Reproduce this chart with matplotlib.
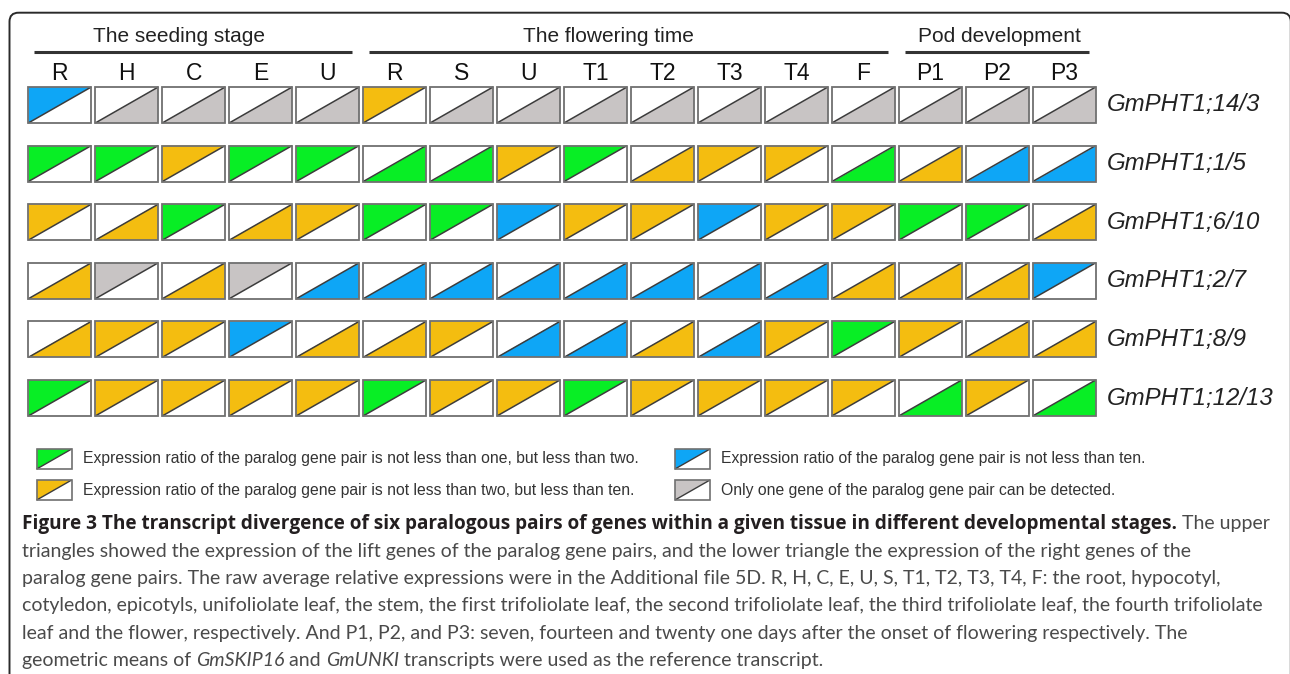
import matplotlib
matplotlib.use("Agg")
import matplotlib.pyplot as plt
from matplotlib.patches import Polygon, Rectangle, FancyBboxPatch

# tissues / sampling points, grouped by stage
tissues = ["R", "H", "C", "E", "U",
           "R", "S", "U", "T1", "T2", "T3", "T4", "F",
           "P1", "P2", "P3"]
stages = ["The seeding stage", "The flowering time", "Pod development"]
stage_span = [(0, 4), (5, 12), (13, 15)]

genes = ["GmPHT1;14/3", "GmPHT1;1/5", "GmPHT1;6/10",
         "GmPHT1;2/7", "GmPHT1;8/9", "GmPHT1;12/13"]

# ratio class: g = 1-2, o = 2-10, b = >=10, n = only one gene detected
# side: L = left gene higher (upper triangle), R = right gene higher (lower triangle)
pht14_3 = ["bL", "nR", "nR", "nR", "nR", "oL", "nR", "nR", "nR", "nR", "nR", "nR", "nR", "nR", "nR", "nR"]
pht1_5 = ["gL", "gL", "oL", "gL", "gL", "gR", "gR", "oL", "gL", "oR", "oL", "oL", "gR", "oR", "bR", "bR"]
pht6_10 = ["oL", "oR", "gL", "oR", "oL", "gL", "gL", "bL", "oL", "oL", "bL", "oL", "oL", "gL", "gL", "oR"]
pht2_7 = ["oR", "nL", "oR", "nL", "bR", "bR", "bR", "bR", "bR", "bR", "bR", "bR", "oR", "oR", "oR", "bL"]
pht8_9 = ["oR", "oL", "oL", "bL", "oR", "oR", "oL", "bR", "bR", "oR", "bR", "oL", "gL", "oL", "oR", "oR"]
pht12_13 = ["gL", "oL", "oL", "oL", "oL", "gL", "oL", "oL", "gL", "oL", "oL", "oL", "oL", "gR", "oL", "gR"]
calls = [pht14_3, pht1_5, pht6_10, pht2_7, pht8_9, pht12_13]

legend_keys = ["g", "o", "b", "n"]
legend_text = ["Expression ratio of the paralog gene pair is not less than one, but less than two.",
               "Expression ratio of the paralog gene pair is not less than two, but less than ten.",
               "Expression ratio of the paralog gene pair is not less than ten.",
               "Only one gene of the paralog gene pair can be detected."]

colors = {"g": "#08ee25", "o": "#f4bd10", "b": "#0ea6f6", "n": "#c8c4c4"}

# layout in pixels
x_first, x_pitch, cell_w = 28.3, 66.96, 63.0
y_first, y_pitch, cell_h = 87.0, 58.6, 36.0
header_shift = [-14, -20, 3]

fig = plt.figure(figsize=(12.9, 6.74), dpi=100)
ax = fig.add_axes([0, 0, 1, 1])
ax.set_xlim(0, 1290)
ax.set_ylim(674, 0)
ax.axis("off")

sans = ["Liberation Sans", "DejaVu Sans"]


def split_box(x0, y0, w, h, code, edge_lw=1.3, diag_lw=1.1):
    x1, y1 = x0 + w, y0 + h
    ax.add_patch(Rectangle((x0, y0), w, h, facecolor="white", edgecolor="none", zorder=1))
    if code[1] == "L":
        tri = [(x0, y0), (x1, y0), (x0, y1)]
    else:
        tri = [(x1, y0), (x1, y1), (x0, y1)]
    ax.add_patch(Polygon(tri, closed=True, facecolor=colors[code[0]], edgecolor="none", zorder=2))
    ax.plot([x0, x1], [y1, y0], color="#3c3c3c", lw=diag_lw, zorder=3, solid_capstyle="butt")
    ax.add_patch(Rectangle((x0, y0), w, h, facecolor="none", edgecolor="#707070", lw=edge_lw, zorder=4))


# outer frame, right side runs along the image edge
ax.add_patch(FancyBboxPatch((9.5, 12.7), 1281.3, 720, boxstyle="round,pad=0,rounding_size=9",
                            facecolor="none", edgecolor="#2a2a2a", lw=1.4))

# stage headers with underline
for name, (a, b), dx in zip(stages, stage_span, header_shift):
    xa = x_first + a * x_pitch + 6
    xb = x_first + b * x_pitch + cell_w - 7
    ax.plot([xa, xb], [52, 52], color="#333333", lw=2.2, solid_capstyle="butt")
    ax.text((xa + xb) / 2 + dx, 37, name, ha="center", va="center", fontsize=15,
            family=sans, color="#222222")

for i, t in enumerate(tissues):
    ax.text(x_first + i * x_pitch + cell_w / 2, 73, t, ha="center", va="center",
            fontsize=16.5, family=sans, color="#111111")

for j, (gene, row) in enumerate(zip(genes, calls)):
    y0 = y_first + j * y_pitch
    for i, code in enumerate(row):
        split_box(x_first + i * x_pitch, y0, cell_w, cell_h, code)
    ax.text(1107, y0 + cell_h / 2, gene, ha="left", va="center", fontsize=17.3,
            family=sans, style="italic", color="#222222")

# legend, two columns
leg_pos = [(36.7, 449), (36.7, 480), (675, 449), (675, 480)]
for key, label, (lx, ly) in zip(legend_keys, legend_text, leg_pos):
    split_box(lx, ly, 35, 20, key + "L", edge_lw=1.2, diag_lw=1.0)
    ax.text(lx + 46, ly + 10, label, ha="left", va="center", fontsize=11.3,
            family=sans, color="#333333")

# caption
fig.canvas.draw()
renderer = fig.canvas.get_renderer()


def text_run(x, y, pieces):
    for s, weight, style, col in pieces:
        if weight == "bold":
            fam, size = ["Open Sans", "DejaVu Sans"], 13.7
        else:
            fam, size = ["Lato", "DejaVu Sans"], 14.0
        t = ax.text(x, y, s, ha="left", va="center", fontsize=size, family=fam,
                    weight=weight, style=style, color=col)
        bb = t.get_window_extent(renderer=renderer)
        x += bb.width


dark, grey = "#231f20", "#4a4a4a"
caption = [
    [("Figure 3 The transcript divergence of six paralogous pairs of genes within a given tissue in different developmental stages.", "bold", "normal", dark),
     (" The upper", "normal", "normal", grey)],
    [("triangles showed the expression of the lift genes of the paralog gene pairs, and the lower triangle the expression of the right genes of the", "normal", "normal", grey)],
    [("paralog gene pairs. The raw average relative expressions were in the Additional file 5D. R, H, C, E, U, S, T1, T2, T3, T4, F: the root, hypocotyl,", "normal", "normal", grey)],
    [("cotyledon, epicotyls, unifoliolate leaf, the stem, the first trifoliolate leaf, the second trifoliolate leaf, the third trifoliolate leaf, the fourth trifoliolate", "normal", "normal", grey)],
    [("leaf and the flower, respectively. And P1, P2, and P3: seven, fourteen and twenty one days after the onset of flowering respectively. The", "normal", "normal", grey)],
    [("geometric means of ", "normal", "normal", grey), ("GmSKIP16", "normal", "italic", grey),
     (" and ", "normal", "normal", grey), ("GmUNKI", "normal", "italic", grey),
     (" transcripts were used as the reference transcript.", "normal", "normal", grey)],
]
for k, line in enumerate(caption):
    text_run(22, 524 + k * 27.3, line)

fig.savefig("out.png", dpi=100)
